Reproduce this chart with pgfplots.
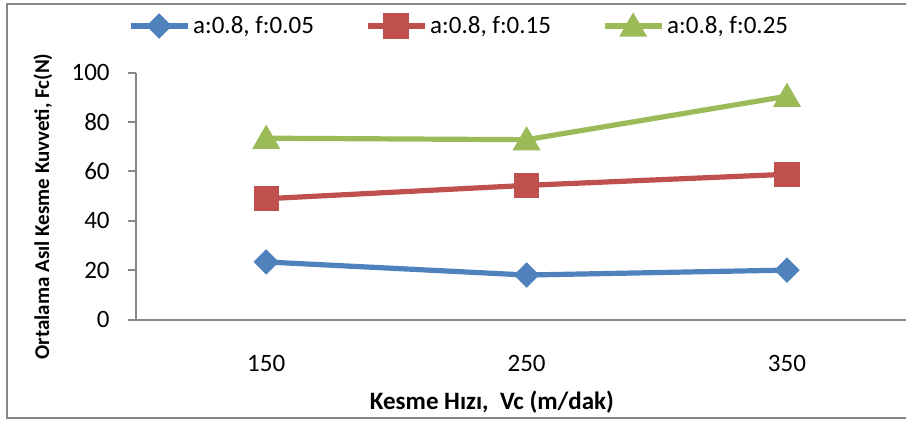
\documentclass[border=0pt]{standalone}
\usepackage{fontspec}
\setmainfont{Carlito}
\usepackage{pgfplots}
\pgfplotsset{compat=1.18}

\definecolor{serA}{HTML}{4F81BD}
\definecolor{serB}{HTML}{C0504D}
\definecolor{serC}{HTML}{9BBB59}
\definecolor{frame}{HTML}{878787}

\begin{document}
\begin{tikzpicture}
\useasboundingbox (-68bp,-50.75bp) rectangle (385bp,159.75bp);
% chart frame (open on the right)
\draw[frame, line width=1bp] (385bp,157.5bp) -- (-64.5bp,157.5bp) -- (-64.5bp,-49.25bp) -- (385bp,-49.25bp);
\begin{axis}[
  at={(0,0)}, anchor=south west,
  scale only axis, width=385bp, height=123.5bp,
  xmin=-0.5, xmax=2.457, ymin=0, ymax=100,
  xtick={0,1,2}, xticklabels={150,250,350},
  ytick={0,20,...,100},
  axis x line*=bottom, axis y line*=left,
  axis line style={frame, line width=1bp},
  x axis line style={-}, y axis line style={-},
  tick align=outside, major tick length=4bp,
  ytick style={frame, line width=1bp},
  xtick style={draw=none},
  /pgf/number format/assume math mode=true,
  tick label style={font=\fontsize{12.5bp}{15bp}\selectfont, text=black},
  yticklabel style={inner sep=0pt, xshift=-9bp},
  xticklabel style={anchor=north, inner sep=0pt, yshift=-13.5bp},
  xlabel={Kesme Hızı,\ \ Vc (m/dak)},
  ylabel={Ortalama Asıl Kesme Kuvveti, Fc(N)},
  every axis x label/.style={at={(axis description cs:0.4623,-0.334)}, anchor=center,
    font=\fontsize{12.5bp}{15bp}\selectfont\bfseries},
  every axis y label/.style={at={(axis description cs:-0.1208,0.4575)}, anchor=center, rotate=90,
    font=\fontsize{10.5bp}{12.6bp}\selectfont\bfseries},
  legend columns=3,
  legend style={at={(axis description cs:0.4182,1.1883)}, anchor=center,
    draw=none, fill=none, inner sep=0pt,
    font=\fontsize{12.5bp}{15bp}\selectfont,
    nodes={inner sep=0pt},
    /tikz/every odd column/.append style={column sep=1.5bp},
    /tikz/every even column/.append style={column sep=25.5bp}},
  legend cell align=left,
  legend image code/.code={
    \draw[mark repeat=2, mark phase=2, #1] plot coordinates {(0bp,0bp) (14.25bp,0bp) (28.5bp,0bp)};
  },
  every axis plot/.append style={line width=2.6bp},
]
\addplot[serA, mark=square*, mark size=3.2bp, mark options={rotate=45, solid, fill=serA}]
  coordinates {(0,23.3) (1,18.0) (2,20.0)};
\addlegendentry{a:0.8, f:0.05}
\addplot[serB, mark=square*, mark size=5bp, mark options={solid, fill=serB}]
  coordinates {(0,48.9) (1,54.3) (2,58.8)};
\addlegendentry{a:0.8, f:0.15}
\addplot[serC, mark=triangle*, mark size=5.5bp, mark options={solid, fill=serC, yshift=-1.3bp}]
  coordinates {(0,73.4) (1,72.8) (2,90.4)};
\addlegendentry{a:0.8, f:0.25}
\end{axis}
\end{tikzpicture}
\end{document}
